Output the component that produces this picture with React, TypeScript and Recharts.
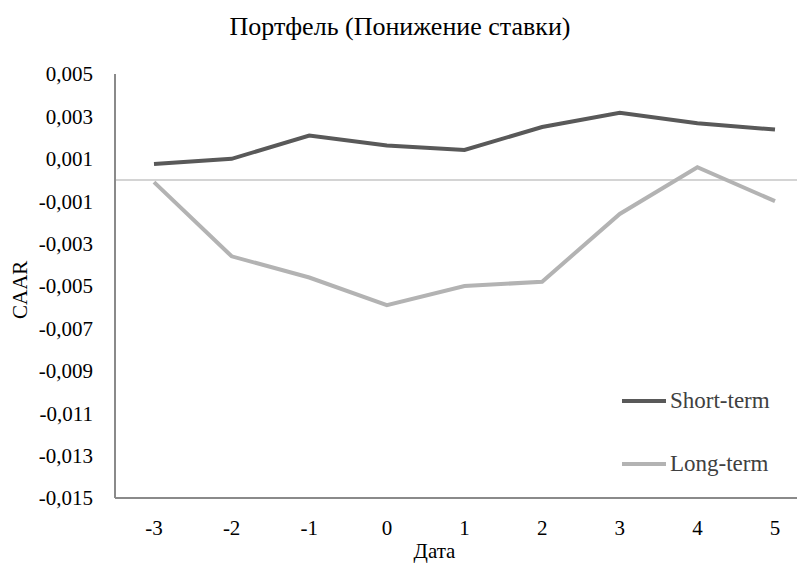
import React from 'react';
import { LineChart, Line, XAxis, YAxis, ReferenceLine } from 'recharts';

// Дни события и значения CAAR
const days = ['-3', '-2', '-1', '0', '1', '2', '3', '4', '5'];
const shortTerm = [0.00076, 0.001, 0.0021, 0.00163, 0.00142, 0.0025, 0.00317, 0.00268, 0.00238];
const longTerm = [-0.0001, -0.0036, -0.0046, -0.0059, -0.005, -0.0048, -0.0016, 0.0006, -0.001];
const yTicks = [0.005, 0.003, 0.001, -0.001, -0.003, -0.005, -0.007, -0.009, -0.011, -0.013, -0.015];

const series = [
  { key: 'short', name: 'Short-term', color: '#595959' },
  { key: 'long', name: 'Long-term', color: '#b3b3b3' },
];

const data = days.map((d, i) => ({ day: d, short: shortTerm[i], long: longTerm[i] }));

const FONT = '"Liberation Serif", "Times New Roman", serif';
const fmt = (v: number) => v.toFixed(3).replace('.', ',');

export default function App() {
  return (
    <div style={{ position: 'relative', width: 797, height: 558, overflow: 'hidden', background: '#fff' }}>
      <div
        style={{
          position: 'absolute', top: 4, left: 0, width: 784, textAlign: 'center',
          fontFamily: FONT, fontSize: 26, color: '#000',
        }}
      >
        Портфель (Понижение ставки)
      </div>
      {/* подпись оси Y */}
      <div
        style={{
          position: 'absolute', left: 3, top: 252, height: 60, lineHeight: '18px', textAlign: 'center',
          writingMode: 'vertical-rl', transform: 'rotate(180deg)', fontFamily: FONT, fontSize: 21, color: '#000',
        }}
      >
        CAAR
      </div>
      {/* легенда внутри области графика, справа снизу */}
      <div style={{ position: 'absolute', top: 361, left: 614, fontFamily: FONT, fontSize: 23, color: '#404040' }}>
        {series.map((s) => (
          <div key={s.key} style={{ display: 'flex', alignItems: 'center', height: 63 }}>
            <span style={{ display: 'inline-block', width: 44, height: 4, background: s.color, marginRight: 4 }} />
            {s.name}
          </div>
        ))}
      </div>
      <LineChart width={820} height={558} data={data} margin={{ top: 66, right: 14, bottom: 8, left: 0 }}>
        <XAxis
          dataKey="day"
          padding={{ left: 39, right: 39 }}
          axisLine={{ stroke: '#8a8a8a', strokeWidth: 2 }}
          tickLine={false}
          tickSize={0}
          tickMargin={22}
          height={60}
          tick={{ fill: '#000', fontSize: 21, fontFamily: FONT }}
          label={{ value: 'Дата', position: 'insideBottom', offset: 0, dx: -30, fill: '#000', fontSize: 21, fontFamily: FONT }}
        />
        <XAxis xAxisId="top" orientation="top" dataKey="day" height={0} tick={false} tickLine={false} axisLine={{ stroke: '#8a8a8a', strokeWidth: 2 }} />
        <YAxis
          domain={[-0.015, 0.005]}
          ticks={yTicks}
          interval={0}
          width={107}
          tickFormatter={fmt}
          axisLine={{ stroke: '#8a8a8a', strokeWidth: 2 }}
          tickLine={false}
          tickSize={0}
          tickMargin={22}
          tick={{ fill: '#000', fontSize: 21, fontFamily: FONT }}
        />
        <ReferenceLine y={0} stroke="#c6c6c6" strokeWidth={1.5} />
        {series.map((s) => (
          <Line key={s.key} dataKey={s.key} name={s.name} stroke={s.color} strokeWidth={4} dot={false} isAnimationActive={false} />
        ))}
      </LineChart>
    </div>
  );
}
